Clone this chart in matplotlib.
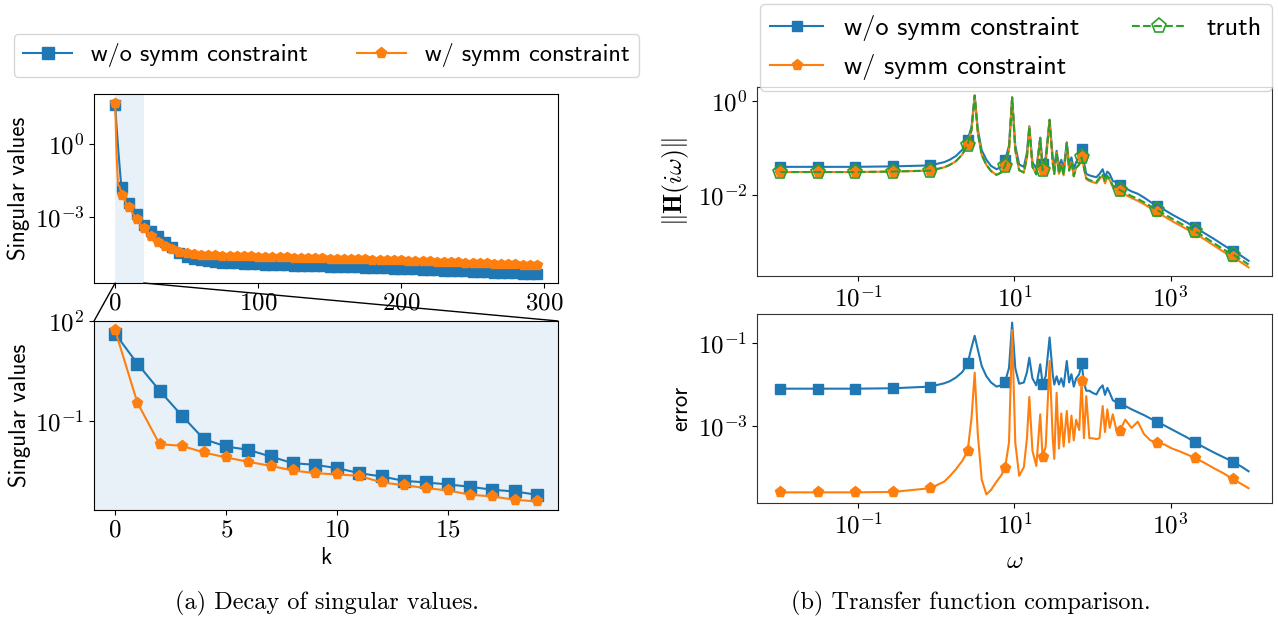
import numpy as np
import matplotlib
matplotlib.use("Agg")
import matplotlib.pyplot as plt
from matplotlib.patches import ConnectionPatch
from matplotlib.ticker import NullLocator

plt.rcParams['font.family'] = 'serif'
plt.rcParams['font.serif'] = ['cmr10']
plt.rcParams['mathtext.fontset'] = 'cm'
plt.rcParams['axes.formatter.use_mathtext'] = True
plt.rcParams['axes.unicode_minus'] = False

# ---- singular values (log10), k = 0..19 (zoomed panel)
k_head = list(range(20))
sv_nosym_head = [1.62, 0.72, -0.09, -0.84, -1.55, -1.77, -1.87, -2.07, -2.27, -2.32,
                 -2.42, -2.57, -2.67, -2.80, -2.85, -2.91, -2.98, -3.07, -3.12, -3.22]
sv_sym_head = [1.72, -0.45, -1.70, -1.75, -1.95, -2.10, -2.23, -2.35, -2.49, -2.57,
               -2.61, -2.65, -2.85, -2.93, -3.02, -3.09, -3.22, -3.27, -3.37, -3.42]

# ---- singular values (log10), k = 20..295 every 5 (full panel)
k_tail = list(range(20, 300, 5))
sv_nosym_tail = [-3.35, -3.58, -3.82, -4.07, -4.28, -4.50, -4.66, -4.76, -4.82, -4.86,
                 -4.89, -4.91, -4.93, -4.94, -4.95, -4.97, -4.98, -4.99, -5.00, -5.01,
                 -5.02, -5.03, -5.04, -5.05, -5.06, -5.07, -5.08, -5.09, -5.10, -5.10,
                 -5.11, -5.12, -5.13, -5.14, -5.15, -5.16, -5.17, -5.18, -5.19, -5.20,
                 -5.21, -5.22, -5.24, -5.25, -5.26, -5.27, -5.28, -5.30, -5.31, -5.32,
                 -5.34, -5.35, -5.36, -5.38, -5.39, -5.40]
sv_sym_tail = [-3.49, -3.79, -4.04, -4.21, -4.35, -4.46, -4.52, -4.56, -4.59, -4.60,
               -4.61, -4.62, -4.63, -4.64, -4.64, -4.65, -4.66, -4.67, -4.67, -4.68,
               -4.69, -4.70, -4.70, -4.71, -4.72, -4.73, -4.74, -4.74, -4.75, -4.76,
               -4.77, -4.78, -4.79, -4.79, -4.80, -4.81, -4.82, -4.83, -4.84, -4.85,
               -4.86, -4.87, -4.88, -4.89, -4.90, -4.91, -4.92, -4.93, -4.94, -4.95,
               -4.96, -4.97, -4.98, -4.99, -5.00, -5.02]

# ---- frequency grid (log10 omega) and responses (log10)
log_w = [-2.00, -1.52, -1.04, -0.56, -0.08, 0.10, 0.17, 0.25, 0.33, 0.40,
         0.45, 0.49, 0.53, 0.58, 0.64, 0.70, 0.77, 0.83, 0.88, 0.93,
         0.97, 1.01, 1.06, 1.12, 1.16, 1.19, 1.23, 1.28, 1.33, 1.36,
         1.40, 1.45, 1.49, 1.51, 1.54, 1.57, 1.60, 1.63, 1.67, 1.70,
         1.73, 1.76, 1.79, 1.83, 1.86, 1.89, 1.92, 1.96, 2.00, 2.05,
         2.09, 2.13, 2.16, 2.19, 2.22, 2.26, 2.30, 2.35, 2.42, 2.50,
         2.58, 2.66, 2.74, 2.82, 2.92, 3.02, 3.12, 3.22, 3.31, 3.42,
         3.55, 3.68, 3.80, 3.92, 4.00]
log_w_marks = [-2.00, -1.52, -1.04, -0.56, -0.08, 0.40, 0.88, 1.36, 1.86, 2.35, 2.82, 3.31, 3.80]

H_nosym = [-1.40, -1.40, -1.40, -1.39, -1.37, -1.30, -1.25, -1.17, -1.04, -0.83,
           -0.55, 0.11, -0.60, -1.05, -1.25, -1.38, -1.45, -1.40, -1.26, -0.95,
           0.07, -0.95, -1.35, -1.40, -1.10, -0.54, -1.30, -1.44, -0.78, -1.34,
           -1.20, -0.40, -1.20, -1.42, -1.06, -1.40, -1.25, -1.45, -0.88, -1.35,
           -1.20, -1.45, -1.30, -1.20, -1.02, -1.30, -1.55, -1.58, -1.60, -1.62,
           -1.55, -1.45, -1.62, -1.50, -1.55, -1.70, -1.72, -1.78, -1.85, -1.92,
           -1.97, -2.05, -2.14, -2.22, -2.31, -2.41, -2.50, -2.59, -2.68, -2.79,
           -2.92, -3.06, -3.18, -3.30, -3.39]
H_sym = [-1.51, -1.51, -1.51, -1.50, -1.48, -1.41, -1.36, -1.28, -1.14, -0.93,
         -0.62, 0.11, -0.68, -1.15, -1.36, -1.49, -1.57, -1.52, -1.38, -1.04,
         0.07, -1.04, -1.47, -1.52, -1.20, -0.55, -1.40, -1.56, -0.79, -1.47,
         -1.32, -0.41, -1.32, -1.55, -1.10, -1.55, -1.35, -1.58, -0.90, -1.48,
         -1.30, -1.60, -1.42, -1.35, -1.20, -1.42, -1.66, -1.70, -1.72, -1.75,
         -1.66, -1.58, -1.75, -1.62, -1.68, -1.83, -1.86, -1.92, -1.99, -2.06,
         -2.12, -2.19, -2.27, -2.35, -2.45, -2.55, -2.64, -2.73, -2.80, -2.92,
         -3.06, -3.20, -3.31, -3.44, -3.53]
H_truth = [-1.51, -1.51, -1.51, -1.50, -1.48, -1.41, -1.36, -1.28, -1.14, -0.93,
           -0.62, 0.11, -0.68, -1.15, -1.36, -1.49, -1.57, -1.52, -1.38, -1.04,
           0.07, -1.04, -1.47, -1.52, -1.20, -0.55, -1.40, -1.56, -0.79, -1.47,
           -1.32, -0.41, -1.32, -1.55, -1.10, -1.55, -1.35, -1.58, -0.90, -1.48,
           -1.30, -1.60, -1.42, -1.35, -1.20, -1.42, -1.64, -1.68, -1.70, -1.72,
           -1.63, -1.55, -1.72, -1.59, -1.65, -1.80, -1.83, -1.89, -1.95, -2.02,
           -2.08, -2.15, -2.23, -2.31, -2.40, -2.50, -2.59, -2.68, -2.76, -2.87,
           -3.01, -3.15, -3.26, -3.38, -3.47]

err_nosym = [-2.10, -2.10, -2.10, -2.09, -2.05, -1.97, -1.92, -1.83, -1.70, -1.49,
             -1.10, -0.82, -1.15, -1.55, -1.80, -1.95, -2.05, -2.02, -1.93, -1.60,
             -0.50, -1.60, -1.98, -1.95, -1.70, -1.35, -1.85, -2.02, -1.51, -1.98,
             -1.80, -0.86, -1.75, -2.00, -1.80, -2.00, -1.85, -2.05, -1.43, -1.95,
             -1.75, -2.05, -1.85, -1.75, -1.47, -1.95, -2.15, -2.15, -2.20, -2.24,
             -2.10, -2.02, -2.25, -2.08, -2.20, -2.38, -2.42, -2.45, -2.52, -2.60,
             -2.67, -2.74, -2.82, -2.90, -2.99, -3.09, -3.19, -3.29, -3.40, -3.51,
             -3.64, -3.76, -3.87, -4.00, -4.10]
err_sym = [-4.61, -4.61, -4.61, -4.60, -4.51, -4.35, -4.22, -4.05, -3.85, -3.61,
           -2.80, -1.71, -3.20, -4.30, -4.66, -4.55, -4.35, -4.20, -4.01, -3.40,
           -0.68, -3.40, -4.21, -4.00, -3.30, -2.30, -3.60, -3.97, -2.72, -3.75,
           -3.50, -1.43, -3.30, -3.80, -2.20, -3.55, -2.70, -3.50, -2.64, -3.40,
           -2.75, -3.35, -2.85, -3.10, -1.91, -3.30, -2.28, -3.30, -3.30, -3.32,
           -3.30, -2.52, -3.15, -2.60, -3.05, -2.72, -3.05, -3.12, -2.85, -3.05,
           -2.90, -3.20, -3.35, -3.41, -3.45, -3.55, -3.62, -3.70, -3.78, -3.88,
           -4.02, -4.15, -4.29, -4.42, -4.51]

lab_nosym = 'w/o symm constraint'
lab_sym = 'w/ symm constraint'
lab_truth = 'truth'

sans = 'cmss10'
lab_fs = 16.5
tick_fs = 18

fig = plt.figure(figsize=(12.78, 6.23), dpi=100)

# ---------------- left: singular values ----------------
k_full = k_head + k_tail
sv1_full = 10.0 ** np.array(sv_nosym_head + sv_nosym_tail)
sv2_full = 10.0 ** np.array(sv_sym_head + sv_sym_tail)
every5 = [i for i, k in enumerate(k_full) if k % 5 == 0]

ax1 = fig.add_axes([0.0736, 0.5457, 0.363, 0.3034])
ax1.plot(k_full, sv1_full, color='C0', marker='s', ms=7, lw=1.5, markevery=every5)
ax1.plot(k_full, sv2_full, color='C1', marker='p', ms=7, lw=1.5, markevery=every5)
ax1.axvspan(0, 20, color='C0', alpha=0.1, lw=0)
ax1.set_yscale('log')
ax1.set_yticks([1e0, 1e-3])
ax1.set_xticks([0, 100, 200, 300])
ax1.yaxis.set_minor_locator(NullLocator())
ax1.set_ylabel('Singular values', fontfamily=sans, fontsize=lab_fs, labelpad=3)

ax2 = fig.add_axes([0.0736, 0.1814, 0.363, 0.3034])
l1, = ax2.plot(k_head, 10.0 ** np.array(sv_nosym_head), color='C0', marker='s', ms=8, lw=1.5, label=lab_nosym)
l2, = ax2.plot(k_head, 10.0 ** np.array(sv_sym_head), color='C1', marker='p', ms=8, lw=1.5, label=lab_sym)
ax2.set_facecolor((0.122, 0.467, 0.706, 0.1))
ax2.set_yscale('log')
ax2.set_yticks([1e2, 1e-1])
ax2.yaxis.set_minor_locator(NullLocator())
ax2.set_xticks([0, 5, 10, 15])
ax2.set_ylabel('Singular values', fontfamily=sans, fontsize=lab_fs, labelpad=3)
ax2.set_xlabel('k', fontfamily=sans, fontsize=lab_fs, labelpad=4)

for a in (ax1, ax2):
    a.tick_params(labelsize=tick_fs)

# zoom connectors
for xa, xb in ((0, 0), (20, 1)):
    con = ConnectionPatch(xyA=(xa, 0), coordsA=ax1.get_xaxis_transform(),
                          xyB=(xb, 1), coordsB=ax2.transAxes, color='k', lw=1)
    fig.add_artist(con)

fig.legend([l1, l2], [lab_nosym, lab_sym], ncol=2, loc='center',
           bbox_to_anchor=(0.2555, 0.911), prop={'family': sans, 'size': 17.5})
fig.text(0.2555, 0.032, '(a) Decay of singular values.', ha='center', va='center', fontsize=17.5)

# ---------------- right: transfer function ----------------
w = 10.0 ** np.array(log_w)
marks = [log_w.index(m) for m in log_w_marks]

ax3 = fig.add_axes([0.5923, 0.557, 0.403, 0.3034])
h1, = ax3.plot(w, 10.0 ** np.array(H_nosym), color='C0', marker='s', ms=7, lw=1.5, markevery=marks)
h2, = ax3.plot(w, 10.0 ** np.array(H_sym), color='C1', marker='p', ms=8, lw=1.5, markevery=marks)
h3, = ax3.plot(w, 10.0 ** np.array(H_truth), color='C2', ls='--', marker='p', ms=11,
               mfc='none', mew=1.2, lw=1.5, markevery=marks)
ax3.set_xscale('log')
ax3.set_yscale('log')
ax3.set_yticks([1e0, 1e-2])
ax3.set_xticks([1e-1, 1e1, 1e3])
ax3.set_ylabel(r'$\|\mathbf{H}(i\omega)\|$', fontsize=lab_fs + 2, labelpad=5)

ax4 = fig.add_axes([0.5923, 0.1926, 0.403, 0.3034])
ax4.plot(w, 10.0 ** np.array(err_nosym), color='C0', marker='s', ms=7, lw=1.5, markevery=marks)
ax4.plot(w, 10.0 ** np.array(err_sym), color='C1', marker='p', ms=8, lw=1.5, markevery=marks)
ax4.set_xscale('log')
ax4.set_yscale('log')
ax4.set_yticks([1e-1, 1e-3])
ax4.set_xticks([1e-1, 1e1, 1e3])
ax4.set_ylabel('error', fontfamily=sans, fontsize=lab_fs, labelpad=4)
ax4.set_xlabel(r'$\omega$', fontsize=lab_fs + 2, labelpad=8)

for a in (ax3, ax4):
    a.xaxis.set_minor_locator(NullLocator())
    a.yaxis.set_minor_locator(NullLocator())
    a.tick_params(labelsize=tick_fs)
    for s in a.spines.values():
        s.set_color('#333333')

fig.legend([h1, h2, h3], [lab_nosym, lab_sym, lab_truth], ncol=2, loc='center',
           bbox_to_anchor=(0.795, 0.924), prop={'family': sans, 'size': 19})
fig.text(0.76, 0.032, '(b) Transfer function comparison.', ha='center', va='center', fontsize=17.5)

fig.savefig('out.png', dpi=100)
